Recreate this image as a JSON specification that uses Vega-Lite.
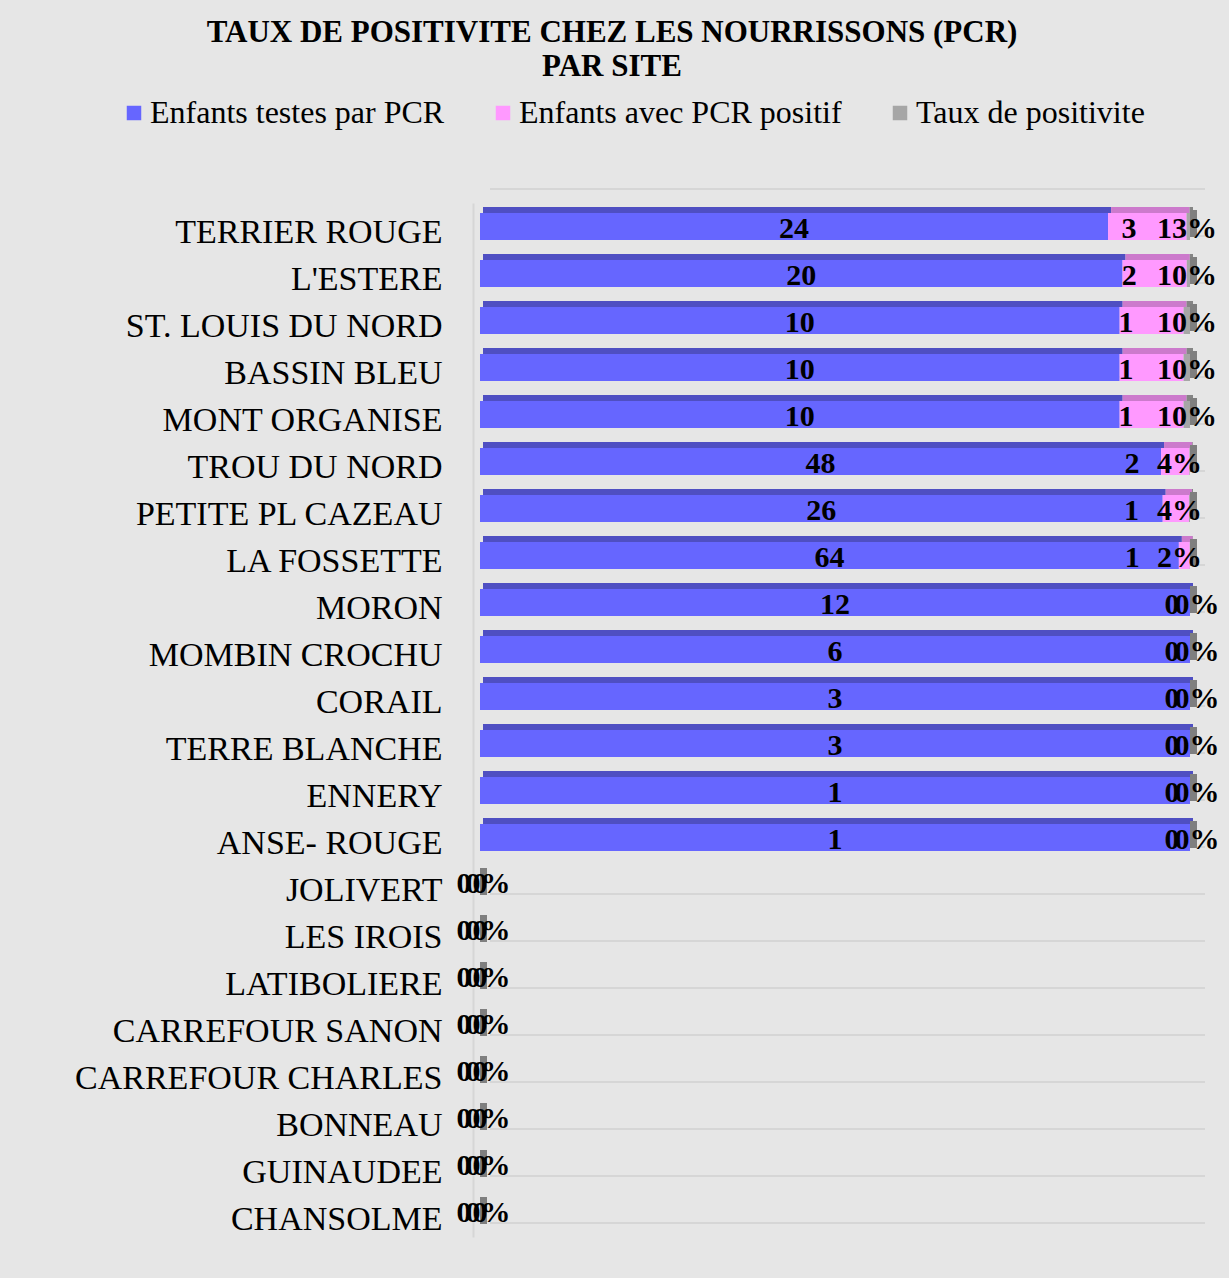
{
  "$schema": "https://vega.github.io/schema/vega-lite/v6.json",
  "autosize": "none",
  "width": 710,
  "height": 1034,
  "padding": {"left": 480, "top": 203, "right": 39, "bottom": 41},
  "background": "#e6e6e6",
  "title": {
    "text": ["TAUX DE POSITIVITE CHEZ LES NOURRISSONS (PCR)", "PAR SITE"],
    "anchor": "middle",
    "frame": "group",
    "dx": -223,
    "offset": 14,
    "font": "Liberation Serif",
    "fontSize": 31,
    "fontWeight": "bold",
    "color": "black",
    "lineHeight": 34
  },
  "data": {
    "values": [
      {"site": "TERRIER ROUGE", "tested": 24, "positive": 3, "rate": 0.13},
      {"site": "L'ESTERE", "tested": 20, "positive": 2, "rate": 0.10},
      {"site": "ST. LOUIS DU NORD", "tested": 10, "positive": 1, "rate": 0.10},
      {"site": "BASSIN BLEU", "tested": 10, "positive": 1, "rate": 0.10},
      {"site": "MONT ORGANISE", "tested": 10, "positive": 1, "rate": 0.10},
      {"site": "TROU DU NORD", "tested": 48, "positive": 2, "rate": 0.04},
      {"site": "PETITE PL CAZEAU", "tested": 26, "positive": 1, "rate": 0.04},
      {"site": "LA FOSSETTE", "tested": 64, "positive": 1, "rate": 0.02},
      {"site": "MORON", "tested": 12, "positive": 0, "rate": 0},
      {"site": "MOMBIN CROCHU", "tested": 6, "positive": 0, "rate": 0},
      {"site": "CORAIL", "tested": 3, "positive": 0, "rate": 0},
      {"site": "TERRE BLANCHE", "tested": 3, "positive": 0, "rate": 0},
      {"site": "ENNERY", "tested": 1, "positive": 0, "rate": 0},
      {"site": "ANSE- ROUGE", "tested": 1, "positive": 0, "rate": 0},
      {"site": "JOLIVERT", "tested": 0, "positive": 0, "rate": 0},
      {"site": "LES IROIS", "tested": 0, "positive": 0, "rate": 0},
      {"site": "LATIBOLIERE", "tested": 0, "positive": 0, "rate": 0},
      {"site": "CARREFOUR SANON", "tested": 0, "positive": 0, "rate": 0},
      {"site": "CARREFOUR CHARLES", "tested": 0, "positive": 0, "rate": 0},
      {"site": "BONNEAU", "tested": 0, "positive": 0, "rate": 0},
      {"site": "GUINAUDEE", "tested": 0, "positive": 0, "rate": 0},
      {"site": "CHANSOLME", "tested": 0, "positive": 0, "rate": 0}
    ]
  },
  "transform": [
    {"fold": ["tested", "positive", "rate"], "as": ["key", "value"]},
    {"calculate": "indexof(['tested','positive','rate'], datum.key)", "as": "ord"},
    {"calculate": "datum.key == 'tested' ? 'Enfants testes par PCR' : datum.key == 'positive' ? 'Enfants avec PCR positif' : 'Taux de positivite'", "as": "serie"},
    {"calculate": "datum.key == 'rate' ? format(datum.value, '.0%') : format(datum.value, 'd')", "as": "lbl"},
    {"stack": "value", "groupby": ["site"], "sort": [{"field": "ord"}], "offset": "normalize", "as": ["s0", "s1"]},
    {"calculate": "isValid(datum.s0) && isFinite(datum.s0) ? datum.s0 : 0", "as": "x0f"},
    {"calculate": "isValid(datum.s1) && isFinite(datum.s1) ? datum.s1 : 0", "as": "x1f"},
    {"calculate": "(datum.x0f + datum.x1f) / 2", "as": "mid"}
  ],
  "layer": [
    {
      "transform": [{"filter": "datum.key == 'tested'"}],
      "mark": {"type": "rule", "color": "#d6d6d6", "strokeWidth": 2, "yOffset": -14, "xOffset": 10, "x2Offset": 15},
      "encoding": {
        "y": {"field": "site", "type": "nominal", "sort": null, "bandPosition": 0, "title": null},
        "x": {"datum": 0, "type": "quantitative", "scale": {"domain": [0, 1], "nice": false}, "axis": null},
        "x2": {"datum": 1}
      }
    },
    {
      "transform": [{"filter": "datum.key == 'tested'"}],
      "mark": {"type": "rule", "color": "#d6d6d6", "strokeWidth": 2, "yOffset": -14, "xOffset": 10, "x2Offset": 15},
      "encoding": {
        "y": {"field": "site", "type": "nominal", "sort": null, "bandPosition": 1, "title": null},
        "x": {"datum": 0, "type": "quantitative", "axis": null},
        "x2": {"datum": 1}
      }
    },
    {
      "mark": {"type": "bar", "height": 6, "yOffset": -16.5, "xOffset": 3, "x2Offset": 3},
      "encoding": {
        "y": {"field": "site", "type": "nominal", "sort": null, "title": null},
        "x": {"field": "x0f", "type": "quantitative", "axis": null},
        "x2": {"field": "x1f"},
        "color": {
          "field": "serie",
          "type": "nominal",
          "scale": {"domain": ["Enfants testes par PCR", "Enfants avec PCR positif", "Taux de positivite"], "range": ["#4f4fc2", "#cc7acc", "#858585"]},
          "legend": null
        }
      }
    },
    {
      "mark": {"type": "bar", "height": 27},
      "encoding": {
        "y": {"field": "site", "type": "nominal", "sort": null, "title": null},
        "x": {"field": "x0f", "type": "quantitative", "axis": null},
        "x2": {"field": "x1f"},
        "color": {
          "field": "serie",
          "type": "nominal",
          "scale": {"domain": ["Enfants testes par PCR", "Enfants avec PCR positif", "Taux de positivite"], "range": ["#6666ff", "#ff99ff", "#a6a6a6"]},
          "legend": {
            "orient": "none",
            "legendX": -362,
            "legendY": -106,
            "direction": "horizontal",
            "symbolType": "square",
            "symbolSize": 210,
            "symbolStrokeWidth": 0,
            "labelFont": "Liberation Serif",
            "labelFontSize": 32,
            "labelColor": "black",
            "labelOffset": 0,
            "labelLimit": 600,
            "columnPadding": 42,
            "padding": 0,
            "title": null
          }
        }
      }
    },
    {
      "transform": [{"filter": "datum.key == 'rate'"}],
      "mark": {"type": "bar", "height": 27, "yOffset": -3, "x2Offset": 7, "color": "#7f7f7f"},
      "encoding": {
        "y": {"field": "site", "type": "nominal", "sort": null, "title": null},
        "x": {"field": "x1f", "type": "quantitative", "axis": null},
        "x2": {"field": "x1f"}
      }
    },
    {
      "transform": [{"filter": "datum.key == 'tested' && datum.tested > 0"}],
      "mark": {"type": "text", "font": "Liberation Serif", "fontSize": 30, "fontWeight": "bold", "color": "black", "align": "center", "baseline": "middle", "dy": 2},
      "encoding": {
        "y": {"field": "site", "type": "nominal", "sort": null, "title": null},
        "x": {"field": "mid", "type": "quantitative", "axis": null},
        "text": {"field": "lbl"}
      }
    },
    {
      "transform": [{"filter": "datum.key == 'positive' && datum.tested > 0 && datum.value > 0"}],
      "mark": {"type": "text", "font": "Liberation Serif", "fontSize": 30, "fontWeight": "bold", "color": "black", "align": "right", "baseline": "middle", "dy": 2, "dx": -50},
      "encoding": {
        "y": {"field": "site", "type": "nominal", "sort": null, "title": null},
        "x": {"field": "x1f", "type": "quantitative", "axis": null},
        "text": {"field": "lbl"}
      }
    },
    {
      "transform": [{"filter": "datum.key == 'positive' && datum.tested > 0 && datum.value == 0"}],
      "mark": {"type": "text", "font": "Liberation Serif", "fontSize": 30, "fontWeight": "bold", "color": "black", "align": "center", "baseline": "middle", "dy": 2, "dx": -18},
      "encoding": {
        "y": {"field": "site", "type": "nominal", "sort": null, "title": null},
        "x": {"field": "x1f", "type": "quantitative", "axis": null},
        "text": {"field": "lbl"}
      }
    },
    {
      "transform": [{"filter": "datum.key == 'rate' && datum.positive > 0"}],
      "mark": {"type": "text", "font": "Liberation Serif", "fontSize": 30, "fontWeight": "bold", "color": "black", "align": "left", "baseline": "middle", "dy": 2, "dx": -33},
      "encoding": {
        "y": {"field": "site", "type": "nominal", "sort": null, "title": null},
        "x": {"field": "x1f", "type": "quantitative", "axis": null},
        "text": {"field": "lbl"}
      }
    },
    {
      "transform": [{"filter": "datum.key == 'rate' && datum.tested > 0 && datum.positive == 0"}],
      "mark": {"type": "text", "font": "Liberation Serif", "fontSize": 30, "fontWeight": "bold", "color": "black", "align": "center", "baseline": "middle", "dy": 2, "dx": 7},
      "encoding": {
        "y": {"field": "site", "type": "nominal", "sort": null, "title": null},
        "x": {"field": "x1f", "type": "quantitative", "axis": null},
        "text": {"field": "lbl"}
      }
    },
    {
      "transform": [{"filter": "datum.key == 'tested' && datum.tested == 0"}],
      "mark": {"type": "text", "font": "Liberation Serif", "fontSize": 30, "fontWeight": "bold", "color": "black", "align": "center", "baseline": "middle", "dy": -1, "dx": -16},
      "encoding": {
        "y": {"field": "site", "type": "nominal", "sort": null, "title": null},
        "x": {"field": "x1f", "type": "quantitative", "axis": null},
        "text": {"field": "lbl"}
      }
    },
    {
      "transform": [{"filter": "datum.key == 'positive' && datum.tested == 0"}],
      "mark": {"type": "text", "font": "Liberation Serif", "fontSize": 30, "fontWeight": "bold", "color": "black", "align": "center", "baseline": "middle", "dy": -1, "dx": 0},
      "encoding": {
        "y": {"field": "site", "type": "nominal", "sort": null, "title": null},
        "x": {"field": "x1f", "type": "quantitative", "axis": null},
        "text": {"field": "lbl"}
      }
    },
    {
      "transform": [{"filter": "datum.key == 'rate' && datum.tested == 0"}],
      "mark": {"type": "text", "font": "Liberation Serif", "fontSize": 30, "fontWeight": "bold", "color": "black", "align": "center", "baseline": "middle", "dy": -1, "dx": 8},
      "encoding": {
        "y": {"field": "site", "type": "nominal", "sort": null, "title": null},
        "x": {"field": "x1f", "type": "quantitative", "axis": null},
        "text": {"field": "lbl"}
      }
    }
  ],
  "resolve": {"scale": {"color": "independent"}},
  "config": {
    "view": {"stroke": null},
    "axisY": {
      "labelFont": "Liberation Serif",
      "labelFontSize": 34,
      "labelColor": "black",
      "labelOffset": 6,
      "labelPadding": 31,
      "ticks": false,
      "grid": false,
      "domainColor": "#d6d6d6",
      "domainWidth": 2,
      "offset": 7,
      "labelLimit": 500
    }
  }
}
